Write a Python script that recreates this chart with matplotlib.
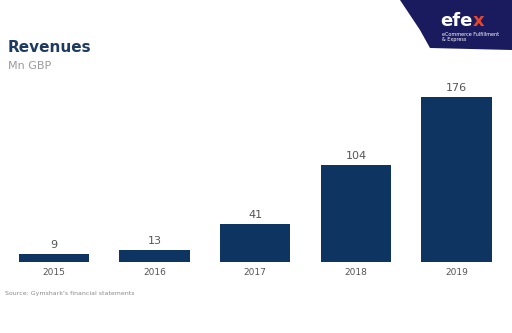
import matplotlib
matplotlib.use('AGG')
import matplotlib.pyplot as plt
from matplotlib.patches import Polygon

years = ['2015', '2016', '2017', '2018', '2019']
revenues = [9, 13, 41, 104, 176]

navy = '#0e3461'
grey = '#7a7a7a'

fig = plt.figure(figsize=(5.12, 3.33), dpi=100)
ax = fig.add_axes([0.007, 0.213, 0.983, 0.563])
x = range(len(years))
ax.bar(x, revenues, width=0.7, color=navy)
for i, v in enumerate(revenues):
    ax.text(i, v + 4, str(v), ha='center', va='bottom', fontsize=8, color='#555555')
ax.set_xlim(-0.5, 4.5)
ax.set_ylim(0, 200)
ax.set_xticks(list(x))
ax.set_xticklabels(years, fontsize=6.5, color='#555555')
ax.tick_params(axis='x', length=0, pad=4)
ax.set_yticks([])
for s in ax.spines.values():
    s.set_visible(False)

fig.text(8 / 512, 1 - 47 / 333, 'Revenues', fontsize=11, fontweight='bold',
         color='#1f3a5f', va='center', ha='left')
fig.text(8 / 512, 1 - 66 / 333, 'Mn GBP', fontsize=8, color='#9a9a9a',
         va='center', ha='left')
fig.text(5 / 512, 1 - 294 / 333, "Source: Gymshark's financial statements",
         fontsize=4.5, color='#8a8a8a', va='center', ha='left')

# logo corner
logo = Polygon([(400 / 512, 1), (1, 1), (1, 1 - 50 / 333), (430 / 512, 1 - 48 / 333),
                (420 / 512, 1 - 30 / 333), (408 / 512, 1 - 12 / 333)],
               closed=True, transform=fig.transFigure, facecolor='#1a1a5e',
               edgecolor='none')
fig.patches.append(logo)
fig.text(440 / 512, 1 - 21 / 333, 'efe', fontsize=13, fontweight='bold',
         color='white', va='center', ha='left')
fig.text(473 / 512, 1 - 21 / 333, 'x', fontsize=13, fontweight='bold',
         color='#e8452c', va='center', ha='left')
fig.text(442 / 512, 1 - 34 / 333, 'eCommerce Fulfillment', fontsize=3.5,
         color='white', va='center', ha='left')
fig.text(442 / 512, 1 - 40 / 333, '& Express', fontsize=3.5,
         color='white', va='center', ha='left')

fig.savefig('out.png', dpi=100, facecolor='white')
